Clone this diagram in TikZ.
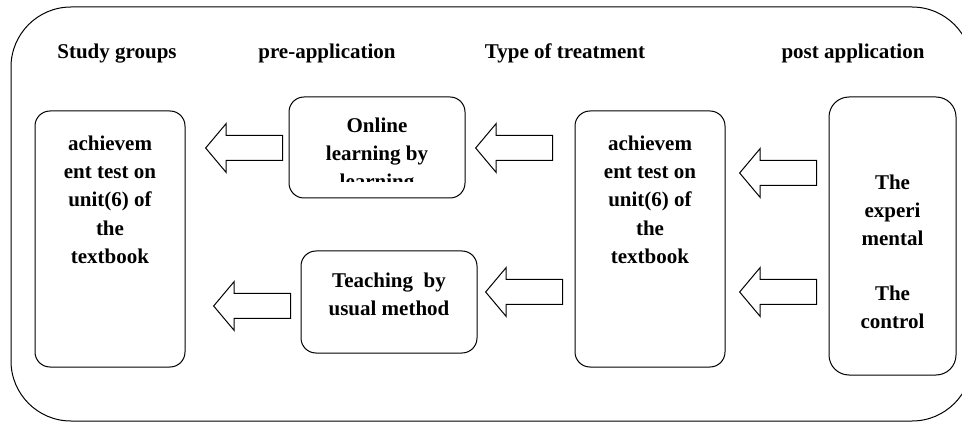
\documentclass[tikz,border=0pt]{standalone}
\usepackage{fontspec}
\setmainfont{Liberation Serif}
\usetikzlibrary{positioning,shapes.arrows}

\begin{document}
\begin{tikzpicture}[x=1pt, y=-1pt,
    stage/.style={draw, line width=1pt, rounded corners=15pt, inner sep=0pt},
    stagetext/.style={font=\fontsize{21}{28.3}\selectfont\bfseries, align=center, inner sep=0pt},
    heading/.style={font=\fontsize{21}{28.3}\selectfont\bfseries, inner sep=0pt, anchor=base},
    blockarrow/.style={draw, line width=1pt, single arrow, rotate=180, anchor=tip,
      inner xsep=0pt, inner ysep=12pt, single arrow head extend=12pt,
      single arrow tip angle=100, minimum height=77pt}]
    \useasboundingbox (0,0) rectangle (962,422);
    \draw[line width=1pt, rounded corners=60pt] (11,7) rectangle (972,421);

    % headings
    \node[heading] (hgroups) at (117,59) {Study groups};
    \node[heading] (hpre) at (327,59) {pre-application};
    \node[heading] (htreat) at (565,59) {Type of treatment};
    \node[heading] (hpost) at (853,59) {post application};

    % boxes
    \node[stage, minimum width=150pt, minimum height=256pt] (tests) at (110,239) {};
    \node[stage, minimum width=176pt, minimum height=101pt] (online) at (377,147.5) {};
    \node[stage, minimum width=176pt, minimum height=102pt] (usual) at (389,302) {};
    \node[stage, minimum width=150pt, minimum height=256pt] (posttests) at (650,239) {};
    \node[stage, minimum width=127pt, minimum height=278pt, rounded corners=20pt] (groups) at (892.5,236) {};

    \node[stagetext, below=25pt of tests.north] (teststext) {achievem\\ent test on\\unit(6) of\\the\\textbook};
    \begin{scope}
      \clip (289,97) rectangle (465,182);
      \node[stagetext, below=21pt of online.north] (onlinetext) {Online\\learning by\\learning};
    \end{scope}
    \node[stagetext, below=22pt of usual.north] (usualtext) {Teaching~~by\\usual method};
    \node[stagetext, below=25pt of posttests.north] (posttext) {achievem\\ent test on\\unit(6) of\\the\\textbook};
    \node[stagetext, below=78pt of groups.north] (groupstext) {The\\experi\\mental\\[26pt]The\\control};

    % arrows
    \foreach \name/\x/\y in {a/205/148, b/213/306, c/475/148, d/485/292, e/739/173, f/739/292} {%
      \node[blockarrow] (arr\name) at (\x,\y) {};
    }
\end{tikzpicture}
\end{document}
